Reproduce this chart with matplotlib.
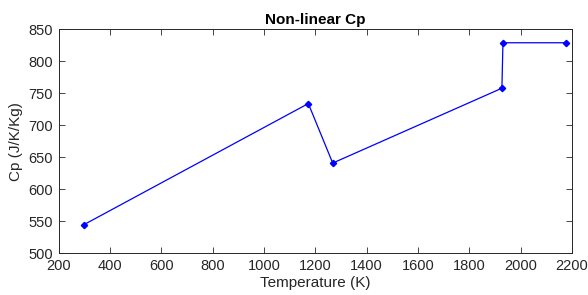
#!/usr/bin/env python3
import matplotlib
matplotlib.use("Agg")
import matplotlib.pyplot as plt

# Cp data points
temperature = [300, 1173, 1268, 1927, 1931, 2176]
cp_values = [545, 734, 641, 758, 829, 829]

x_ticks = [200, 400, 600, 800, 1000, 1200, 1400, 1600, 1800, 2000, 2200]
y_ticks = [500, 550, 600, 650, 700, 750, 800, 850]

plt.rcParams['font.family'] = ['Liberation Sans', 'DejaVu Sans']

dark = '#262626'

fig = plt.figure(figsize=(5.88, 2.95), dpi=100)
ax = fig.add_axes([0.0995, 0.1413, 0.8733, 0.7593])

ax.plot(temperature, cp_values, color='blue', linewidth=0.9,
        marker='D', markersize=3.2, markerfacecolor='blue', markeredgecolor='blue')

ax.set_xlim(200, 2200)
ax.set_ylim(500, 850)
ax.set_xticks(x_ticks)
ax.set_yticks(y_ticks)

ax.tick_params(direction='in', length=4, width=0.6, top=True, right=True,
               colors=dark, labelsize=10.5, pad=4)
for sp in ax.spines.values():
    sp.set_color(dark)
    sp.set_linewidth(0.7)

ax.set_xlabel('Temperature (K)', color=dark, fontsize=11, labelpad=2)
ax.set_ylabel('Cp (J/K/Kg)', color=dark, fontsize=11, labelpad=4)
ax.set_title('Non-linear Cp', fontweight='bold', fontsize=11, color='black', pad=4)

fig.savefig('out.png', dpi=100)
